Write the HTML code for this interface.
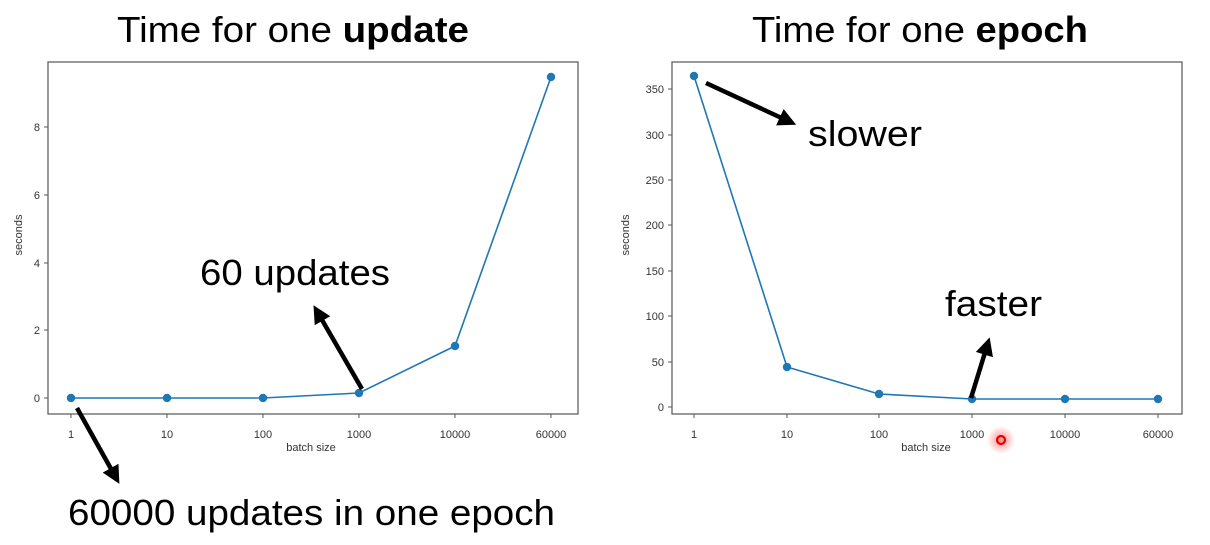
<!DOCTYPE html>
<html><head><meta charset="utf-8"><style>
html,body{margin:0;padding:0;background:#fff;}
svg{display:block;font-family:"Liberation Sans","DejaVu Sans",sans-serif;}
.t{font-size:11px;fill:#333;}
.big{font-size:36px;fill:#000;}
</style></head><body>
<svg width="1210" height="545" viewBox="0 0 1210 545">
<defs>
<marker id="ah" markerWidth="4" markerHeight="4" refX="2" refY="2" orient="auto" markerUnits="strokeWidth">
<path d="M0,0 L4,2 L0,4 z" fill="#000"/></marker>
<radialGradient id="rg"><stop offset="0" stop-color="#ff4040" stop-opacity="0.6"/><stop offset="1" stop-color="#ff4040" stop-opacity="0"/></radialGradient>
</defs>
<!-- titles -->
<text x="293" y="42" class="big" text-anchor="middle" textLength="352" lengthAdjust="spacingAndGlyphs">Time for one <tspan font-weight="bold">update</tspan></text>
<text x="920" y="42" class="big" text-anchor="middle" textLength="336" lengthAdjust="spacingAndGlyphs">Time for one <tspan font-weight="bold">epoch</tspan></text>

<!-- LEFT CHART -->
<rect x="48" y="62" width="530" height="352" fill="none" stroke="#555" stroke-width="1.2"/>
<g class="t" text-anchor="end">
<text x="40" y="402">0</text><text x="40" y="334">2</text><text x="40" y="267">4</text><text x="40" y="199">6</text><text x="40" y="131">8</text>
</g>
<g stroke="#555"><line x1="44" x2="48" y1="398" y2="398"/><line x1="44" x2="48" y1="330" y2="330"/><line x1="44" x2="48" y1="263" y2="263"/><line x1="44" x2="48" y1="195" y2="195"/><line x1="44" x2="48" y1="127" y2="127"/>
<line x1="71" x2="71" y1="414" y2="418"/><line x1="167" x2="167" y1="414" y2="418"/><line x1="263" x2="263" y1="414" y2="418"/><line x1="359" x2="359" y1="414" y2="418"/><line x1="455" x2="455" y1="414" y2="418"/><line x1="551" x2="551" y1="414" y2="418"/></g>
<g class="t" text-anchor="middle">
<text x="71" y="438">1</text><text x="167" y="438">10</text><text x="263" y="438">100</text><text x="359" y="438">1000</text><text x="455" y="438">10000</text><text x="551" y="438">60000</text>
<text x="311" y="451">batch size</text>
<text transform="translate(22,235) rotate(-90)">seconds</text>
</g>
<polyline points="71,398 167,398 263,398 359,393 455,346 551,77" fill="none" stroke="#1f77b4" stroke-width="1.6"/>
<g fill="#1f77b4"><circle cx="71" cy="398" r="4.2"/><circle cx="167" cy="398" r="4.2"/><circle cx="263" cy="398" r="4.2"/><circle cx="359" cy="393" r="4.2"/><circle cx="455" cy="346" r="4.2"/><circle cx="551" cy="77" r="4.2"/></g>
<text x="200" y="285" class="big" textLength="190" lengthAdjust="spacingAndGlyphs">60 updates</text>
<line x1="362" y1="389" x2="318" y2="313" stroke="#000" stroke-width="4.5" marker-end="url(#ah)"/>
<text x="68" y="525" class="big" textLength="487" lengthAdjust="spacingAndGlyphs">60000 updates in one epoch</text>
<line x1="77" y1="408" x2="115" y2="476" stroke="#000" stroke-width="4.5" marker-end="url(#ah)"/>

<!-- RIGHT CHART -->
<rect x="672" y="62" width="510" height="352" fill="none" stroke="#555" stroke-width="1.2"/>
<g class="t" text-anchor="end">
<text x="664" y="411">0</text><text x="664" y="366">50</text><text x="664" y="320">100</text><text x="664" y="275">150</text><text x="664" y="229">200</text><text x="664" y="184">250</text><text x="664" y="139">300</text><text x="664" y="93">350</text>
</g>
<g stroke="#555"><line x1="668" x2="672" y1="407" y2="407"/><line x1="668" x2="672" y1="362" y2="362"/><line x1="668" x2="672" y1="316" y2="316"/><line x1="668" x2="672" y1="271" y2="271"/><line x1="668" x2="672" y1="225" y2="225"/><line x1="668" x2="672" y1="180" y2="180"/><line x1="668" x2="672" y1="135" y2="135"/><line x1="668" x2="672" y1="89" y2="89"/>
<line x1="694" x2="694" y1="414" y2="418"/><line x1="787" x2="787" y1="414" y2="418"/><line x1="879" x2="879" y1="414" y2="418"/><line x1="972" x2="972" y1="414" y2="418"/><line x1="1065" x2="1065" y1="414" y2="418"/><line x1="1158" x2="1158" y1="414" y2="418"/></g>
<g class="t" text-anchor="middle">
<text x="694" y="438">1</text><text x="787" y="438">10</text><text x="879" y="438">100</text><text x="972" y="438">1000</text><text x="1065" y="438">10000</text><text x="1158" y="438">60000</text>
<text x="926" y="451">batch size</text>
<text transform="translate(629,235) rotate(-90)">seconds</text>
</g>
<polyline points="694,76 787,367 879,394 972,399 1065,399 1158,399" fill="none" stroke="#1f77b4" stroke-width="1.6"/>
<g fill="#1f77b4"><circle cx="694" cy="76" r="4.2"/><circle cx="787" cy="367" r="4.2"/><circle cx="879" cy="394" r="4.2"/><circle cx="972" cy="399" r="4.2"/><circle cx="1065" cy="399" r="4.2"/><circle cx="1158" cy="399" r="4.2"/></g>
<text x="808" y="146" class="big" textLength="114" lengthAdjust="spacingAndGlyphs">slower</text>
<line x1="706" y1="83" x2="788" y2="121" stroke="#000" stroke-width="4.5" marker-end="url(#ah)"/>
<text x="945" y="316" class="big" textLength="97" lengthAdjust="spacingAndGlyphs">faster</text>
<line x1="971" y1="398" x2="987" y2="346" stroke="#000" stroke-width="4.5" marker-end="url(#ah)"/>
<circle cx="1001" cy="440" r="14" fill="url(#rg)"/>
<circle cx="1001" cy="440" r="4" fill="none" stroke="#e00" stroke-width="2.2"/>
</svg>
</body></html>
